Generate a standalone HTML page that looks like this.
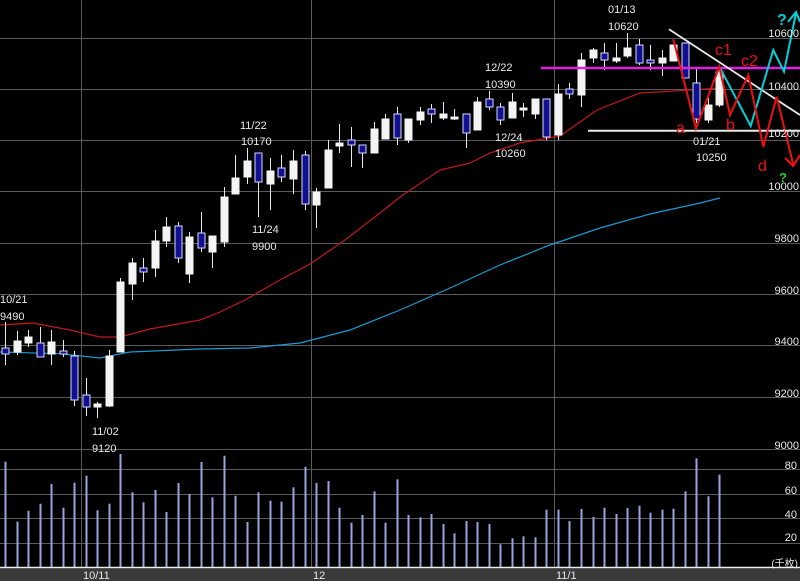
<!DOCTYPE html>
<html><head><meta charset="utf-8"><style>
html,body{margin:0;padding:0;background:#000;width:800px;height:581px;overflow:hidden}
svg{display:block}
text{font-family:"Liberation Sans","Noto Sans CJK JP",sans-serif;font-size:11px;fill:#e8e8e8}
</style></head><body>
<svg id="c" width="800" height="581" viewBox="0 0 800 581" xmlns="http://www.w3.org/2000/svg">
<rect width="800" height="581" fill="#000"/>
<g stroke="#5a5a5a" stroke-width="1">
<line x1="0" y1="38.5" x2="800" y2="38.5"/><line x1="0" y1="89.5" x2="800" y2="89.5"/>
<line x1="0" y1="140.5" x2="800" y2="140.5"/><line x1="0" y1="191.5" x2="800" y2="191.5"/>
<line x1="0" y1="243.5" x2="800" y2="243.5"/><line x1="0" y1="294.5" x2="800" y2="294.5"/>
<line x1="0" y1="345.5" x2="800" y2="345.5"/><line x1="0" y1="397.5" x2="800" y2="397.5"/>
<line x1="0" y1="449.5" x2="800" y2="449.5"/><line x1="0" y1="469.5" x2="800" y2="469.5"/>
<line x1="0" y1="494.5" x2="800" y2="494.5"/><line x1="0" y1="518.5" x2="800" y2="518.5"/>
<line x1="0" y1="543.5" x2="800" y2="543.5"/>
<line x1="81.5" y1="0" x2="81.5" y2="567"/><line x1="311.5" y1="0" x2="311.5" y2="567"/>
<line x1="554.5" y1="0" x2="554.5" y2="567"/>
</g>
<g id="vol" stroke="#9aa4e0" stroke-width="2"></g>
<polyline fill="none" stroke="#c01818" stroke-width="1.2" points="0,325 33,323 70,330 100,337 120,337 150,329 200,320 220,312 245,300 280,280 310,264 345,240 380,213 400,197 440,170 470,163 490,153 520,143 560,136 597,110 640,93 680,90.7 720,88"/>
<polyline fill="none" stroke="#1a9ad0" stroke-width="1.2" points="0,352 60,353.7 100,358 130,352 200,349 250,348 300,343 350,330 400,310 450,288 500,265 550,245 600,228 650,214 700,203 720,198"/>
<g id="cand"></g>
<!-- annotations -->
<line x1="541" y1="68" x2="800" y2="68" stroke="#e020e0" stroke-width="2.5"/>
<line x1="588" y1="130.7" x2="800" y2="130.7" stroke="#e8e8e8" stroke-width="2"/>
<line x1="669" y1="29.3" x2="800" y2="115" stroke="#e8e8e8" stroke-width="1.8"/>
<polyline fill="none" stroke="#00d0d8" stroke-width="2" points="719.3,66.7 750.7,126 773.3,50 784,71.7 796,13"/>
<polyline fill="none" stroke="#00d0d8" stroke-width="2" points="788,22 796,12 800,22"/>
<polyline fill="none" stroke="#ee1010" stroke-width="2" points="673.3,39.3 696,128.3 719.3,66.7 730,115 748.3,75 763.3,146.7 776.7,96.7 793.3,165"/>
<polyline fill="none" stroke="#ee1010" stroke-width="2" points="785,158 793.3,166 800,155"/>
<g font-size="16" style="font-size:16px">
<text x="715" y="55" style="font-size:16px;fill:#ee1010">c1</text>
<text x="741" y="66" style="font-size:16px;fill:#ee1010">c2</text>
<text x="676" y="133" style="font-size:16px;fill:#ee1010">a</text>
<text x="726" y="130" style="font-size:16px;fill:#ee1010">b</text>
<text x="758" y="171" style="font-size:16px;fill:#ee1010">d</text>
<text x="777" y="25" style="font-size:16px;fill:#00d0d8;font-weight:bold">?</text>
<text x="779" y="182" style="font-size:13px;fill:#20d020;font-weight:bold">?</text>
</g>
<g>
<text x="608" y="13">01/13</text><text x="608" y="30">10620</text>
<text x="693" y="145">01/21</text><text x="696" y="161">10250</text>
<text x="485" y="71">12/22</text><text x="485" y="88">10390</text>
<text x="495" y="141">12/24</text><text x="495" y="157">10260</text>
<text x="240" y="129">11/22</text><text x="241" y="145">10170</text>
<text x="252" y="233">11/24</text><text x="252" y="250">9900</text>
<text x="0" y="303">10/21</text><text x="0" y="320">9490</text>
<text x="92" y="435">11/02</text><text x="92" y="452">9120</text>
</g>
<g text-anchor="end">
<text x="799" y="37">10600</text><text x="799" y="90">10400</text><text x="799" y="137">10200</text>
<text x="799" y="190">10000</text><text x="799" y="242">9800</text><text x="799" y="294">9600</text>
<text x="799" y="345">9400</text><text x="799" y="397">9200</text><text x="799" y="449">9000</text>
<text x="797" y="469">80</text><text x="797" y="494">60</text><text x="797" y="518">40</text><text x="797" y="541">20</text>
<text x="798" y="567" style="font-size:10px">(千枚)</text>
</g>
<line x1="0" y1="567.5" x2="800" y2="567.5" stroke="#f0f0f0" stroke-width="1.5"/>
<rect x="0" y="568.5" width="800" height="13" fill="#3a3a3a"/>
<text x="83" y="579">10/11</text><text x="313" y="579">12</text><text x="556" y="579">11/1</text>
</svg>
<script>
var ns="http://www.w3.org/2000/svg";
var vt=[461.7,521.7,510.7,503.7,484,507.7,482.7,475.7,510.3,503.7,454,492.3,502.3,490,512,483,494,462,497.3,455.7,495.7,522,492.3,500.7,501.7,487.3,466.7,483,481,507.7,522.7,515,491.3,522.7,479.3,515,517.3,514,524,533.3,521,522,524,544.3,538.3,536.3,537.3,509.7,509.7,521,509,517,507.7,514,508,505.7,512.7,509.7,508.7,491.3,458.3,496.3,474.7];
// [top,bottom,hi,lo,blue?]
var c=[[348,354,322,365,1],[341,352,331,355,0],[337,343,330,347,0],[343,357,327,357,1],[342,354,330,365,0],[351,354,340,357,1],[356,400,351,406,1],[395,407,378,416,1],[404,407,402,418,0],[356,406,350,407,0],
[282,352,278,352,0],[263,284,258,300,0],[268,272,258,282,1],[241,268,230,277,0],[227,241,217,247,0],[226,258,222,263,1],[237,274,232,283,0],[233,248,212,252,1],[236,252,236,268,0],[197,242,187,247,0],
[178,194,155,194,0],[161,177,148,184,0],[153,182,153,217,1],[171,184,158,210,0],[168,177,155,182,1],[161,179,150,194,0],[155,204,151,210,1],[192,205,188,228,0],[150,188,140,188,0],[143,146,124,153,0],
[140,145,127,167,1],[145,153,145,168,1],[129,153,122,153,0],[119,139,114,139,0],[114,138,107,145,1],[119,140,119,143,0],[112,120,107,125,0],[109,114,104,123,1],[114,118,102,120,0],[117,119,109,120,0],
[114,133,114,148,1],[102,130,97,130,0],[99,107,91,110,1],[107,120,103,125,1],[102,118,93,118,0],[108,110,103,117,0],[99,114,99,119,0],[99,137,99,140,1],[94,135,84,140,0],[89,94,83,99,1],
[60,95,53,107,0],[50,58,48,63,0],[53,60,43,70,1],[58,61,43,63,0],[48,56,33,58,0],[45,63,39,65,1],[60,63,45,70,1],[58,63,50,76,0],[45,61,45,61,0],[43,78,43,78,1],
[83,119,68,123,1],[105,120,98,123,0],[72,105,65,107,0]];
var vg=document.getElementById("vol"),cg=document.getElementById("cand");
function el(t,a,p){var e=document.createElementNS(ns,t);for(var k in a)e.setAttribute(k,a[k]);p.appendChild(e);}
for(var i=0;i<63;i++){
 var x=Math.round(5+i*11.52)+0.5;
 el("line",{x1:x,y1:vt[i],x2:x,y2:567},vg);
 var d=c[i];
 el("line",{x1:x,y1:d[2],x2:x,y2:d[3],stroke:"#e8e8e8","stroke-width":1},cg);
 var h=Math.max(d[1]-d[0],2);
 el("rect",{x:x-3.5,y:d[0],width:7,height:h,fill:d[4]?"#101090":"#f4f4f4",stroke:d[4]?"#d8d8ff":"#f4f4f4","stroke-width":1},cg);
}
</script>
</body></html>
